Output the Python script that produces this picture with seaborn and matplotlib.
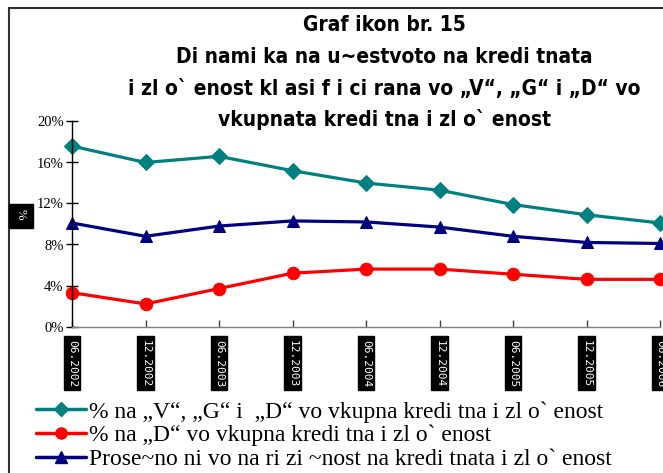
import matplotlib
matplotlib.use("Agg")
import matplotlib.pyplot as plt
import seaborn as sns
import pandas as pd
from matplotlib.lines import Line2D
from matplotlib.patches import Rectangle
from matplotlib.ticker import FuncFormatter

periods = ["06.2002", "12.2002", "06.2003", "12.2003", "06.2004",
           "12.2004", "06.2005", "12.2005", "06.2006"]
share_vgd = [17.6, 16.0, 16.6, 15.2, 14.0, 13.3, 11.9, 10.9, 10.1]
share_d = [3.3, 2.2, 3.7, 5.2, 5.6, 5.6, 5.1, 4.6, 4.6]
avg_risk = [10.1, 8.8, 9.8, 10.3, 10.2, 9.7, 8.8, 8.2, 8.1]

labels = ["% na „V“, „G“ i  „D“ vo vkupna kredi tna i zl o` enost",
          "% na „D“ vo vkupna kredi tna i zl o` enost",
          "Prose~no ni vo na ri zi ~nost na kredi tnata i zl o` enost"]
title_lines = ["Graf ikon br. 15",
               "Di nami ka na u~estvoto na kredi tnata",
               "i zl o` enost kl asi f i ci rana vo „V“, „G“ i „D“ vo",
               "vkupnata kredi tna i zl o` enost"]
colors = ["#008080", "#FF0000", "#000080"]
markers = ["D", "o", "^"]
msizes = [8, 9, 9]

sns.set_theme(style="white")
plt.rcParams['font.family'] = ['Liberation Serif', 'DejaVu Serif']
plt.rcParams['text.color'] = 'black'

fig = plt.figure(figsize=(6.63, 4.73), dpi=100)
W, H = 663, 473
ax = fig.add_axes([72 / W, 1 - 326.5 / H, 588 / W, 205 / H])

idx = list(range(len(periods)))
series = [share_vgd, share_d, avg_risk]
for vals, c, m, ms in zip(series, colors, markers, msizes):
    df = pd.DataFrame({"x": idx, "y": vals})
    sns.lineplot(data=df, x="x", y="y", ax=ax, color=c, lw=2.3,
                 marker=m, markersize=ms, markeredgecolor=c, clip_on=False)

ax.set_xlim(0, 8)
ax.set_ylim(0, 20)
ax.set_yticks([0, 4, 8, 12, 16, 20])
ax.yaxis.set_major_formatter(FuncFormatter(lambda v, p: f"{v:.0f}%"))
ax.set_xticks(idx)
ax.set_xticklabels([])
ax.set_xlabel("")
ax.set_ylabel("")
for s in ["top", "right"]:
    ax.spines[s].set_visible(False)
ax.spines["left"].set_color("black")
ax.spines["left"].set_linewidth(1.0)
ax.spines["bottom"].set_color("#808080")
ax.spines["bottom"].set_linewidth(1.0)
ax.tick_params(axis="y", direction="inout", length=8, width=1, labelsize=10.5,
               left=True, pad=2, colors="black")
ax.tick_params(axis="x", direction="in", length=5, width=1, bottom=True,
               color="#404040")

for i, p in zip(idx, periods):
    ax.text(i, -1.3, p, rotation=-90, ha="center", va="top", color="white",
            fontsize=8, family="DejaVu Sans Mono",
            bbox=dict(boxstyle="square,pad=0.3", fc="black", ec="black"))

fig.text(21 / W, 1 - 216 / H, "% ", rotation=-90, ha="center", va="center",
         color="white", fontsize=9,
         bbox=dict(boxstyle="square,pad=0.45", fc="black", ec="black"))

baselines = [31, 63, 95, 126]
for line, b in zip(title_lines, baselines):
    fig.text(384 / W, 1 - b / H, line, ha="center", va="baseline",
             fontsize=15, fontweight="bold", fontstretch="condensed",
             family=['DejaVu Sans'], color="black")

handles = [Line2D([], [], color=c, lw=2.5, marker=m, markersize=ms - 1)
           for c, m, ms in zip(colors, markers, msizes)]
leg = fig.legend(handles, labels, loc="upper left",
                 bbox_to_anchor=(36 / W, 1 - 401 / H), frameon=False,
                 fontsize=17, handlelength=2.1, handletextpad=0.15,
                 labelspacing=0.1, borderaxespad=0, borderpad=0)

fig.patches.append(Rectangle((8.5 / W, -0.1), 1.2, 1 - 8.5 / H + 0.1,
                             transform=fig.transFigure, fill=False,
                             ec="#303030", lw=1.5))

fig.savefig("out.png", dpi=100)
